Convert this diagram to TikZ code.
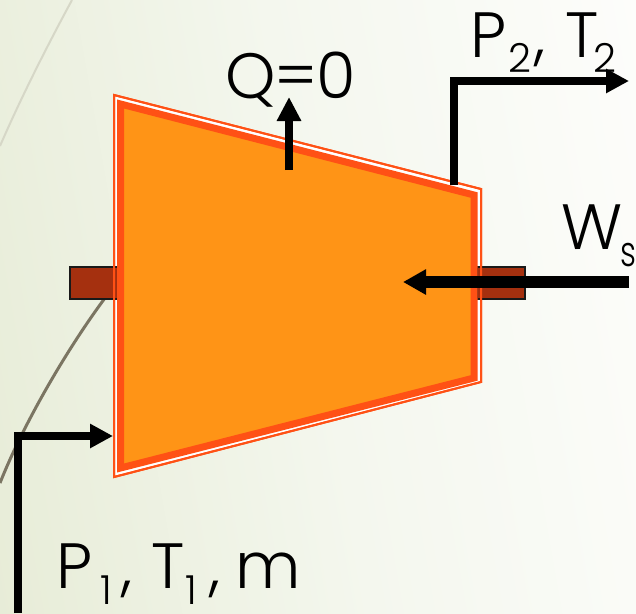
\documentclass[tikz,border=0pt]{standalone}
\usepackage{fontspec}
\setmainfont{Poppins Light}
\usetikzlibrary{arrows.meta}
\definecolor{bgL}{HTML}{E7ECD7}
\definecolor{bgM}{HTML}{F4F7EE}
\definecolor{bgR}{HTML}{FDFDFB}
\definecolor{edge}{HTML}{FF5115}
\definecolor{body}{HTML}{FF9416}
\definecolor{shaft}{HTML}{A5300F}
\definecolor{arcD}{HTML}{7B7562}
\definecolor{arcL}{HTML}{D6D7C7}
\newcommand{\lowered}[2]{\raisebox{#1}{\fontsize{40}{40}\selectfont #2}}
\tikzset{
  x=1pt,y=-1pt,
  flow/.style={draw=black,line width=8pt,miter limit=10},
  lbl/.style={inner sep=0pt,outer sep=0pt,anchor=base west,font=\fontsize{64}{64}\selectfont,text=black},
  stub/.style={fill=shaft,draw=black!90,line width=2pt},
}
\begin{document}
\begin{tikzpicture}
\useasboundingbox (0,0) rectangle (636,613);
\shade[left color=bgL,right color=bgR,middle color=bgM,shading angle=100] (-60,-60) rectangle (696,673);
% background arcs
\draw[arcL,line width=2pt] (72,0) .. controls (45,50) and (20,100) .. (0,146);
\draw[arcD,line width=3pt] (105,298) .. controls (70,345) and (25,420) .. (0,483);
% named corners
\coordinate (oa) at (114,95);
\coordinate (ob) at (481,189);
\coordinate (oc) at (481,382);
\coordinate (od) at (114,477);
\coordinate (ia) at (120.5,104);
\coordinate (ib) at (474,195);
\coordinate (ic) at (474,378);
\coordinate (id) at (120.5,468);
% white gap and outer line
\draw[edge,line width=2pt,fill=white] (oa) -- (ob) -- (oc) -- (od) -- cycle;
% shaft stubs
\node[stub,minimum width=48pt,minimum height=32pt,inner sep=0pt] (stubL) at (94,282.5) {};
\node[stub,minimum width=48pt,minimum height=32pt,inner sep=0pt] (stubR) at (501,282.5) {};
\draw[edge,line width=2pt] (oa) -- (ob) -- (oc) -- (od) -- cycle;
% turbine body
\draw[edge,fill=body,line width=7pt,miter limit=10] (ia) -- (ib) -- (ic) -- (id) -- cycle;
% flows
\coordinate (q0) at (289,170);
\coordinate (q1) at (289,97);
\draw[flow,-{Triangle[length=24pt,width=23pt]}] (q0) -- (q1);
\coordinate (out0) at (454,185);
\coordinate (outc) at (454,81);
\coordinate (out1) at (629,81);
\draw[flow,-{Triangle[length=23pt,width=23pt]}] (out0) -- (outc) -- (out1);
\coordinate (w0) at (629,282);
\coordinate (w1) at (403,282);
\draw[flow,line width=11.5pt,-{Triangle[length=23pt,width=24pt]}] (w0) -- (w1);
\coordinate (in0) at (18,613);
\coordinate (inc) at (18,436);
\coordinate (in1) at (113,436);
\draw[flow,-{Triangle[length=23pt,width=23pt]}] (in0) -- (inc) -- (in1);
% labels
\node[lbl] (lq) at (225,98) {Q\hspace{-1pt}=\hspace{-1pt}0};
\node[lbl] (lo) at (470,57) {P\hspace{2pt}\lowered{-15pt}{2}\hspace{4pt},\hspace{19pt}T\hspace{-5pt}\lowered{-15pt}{2}};
\node[lbl] (lw) at (561,249) {W\hspace{-2pt}\lowered{-17pt}{\scalebox{0.78}[1.05]{s}}};
\node[lbl] (li) at (56,588) {P\hspace{8pt}\lowered{-16pt}{1}\hspace{10pt},\hspace{19pt}T\lowered{-16pt}{1}\hspace{13pt},\hspace{15pt}m};
\end{tikzpicture}
\end{document}
